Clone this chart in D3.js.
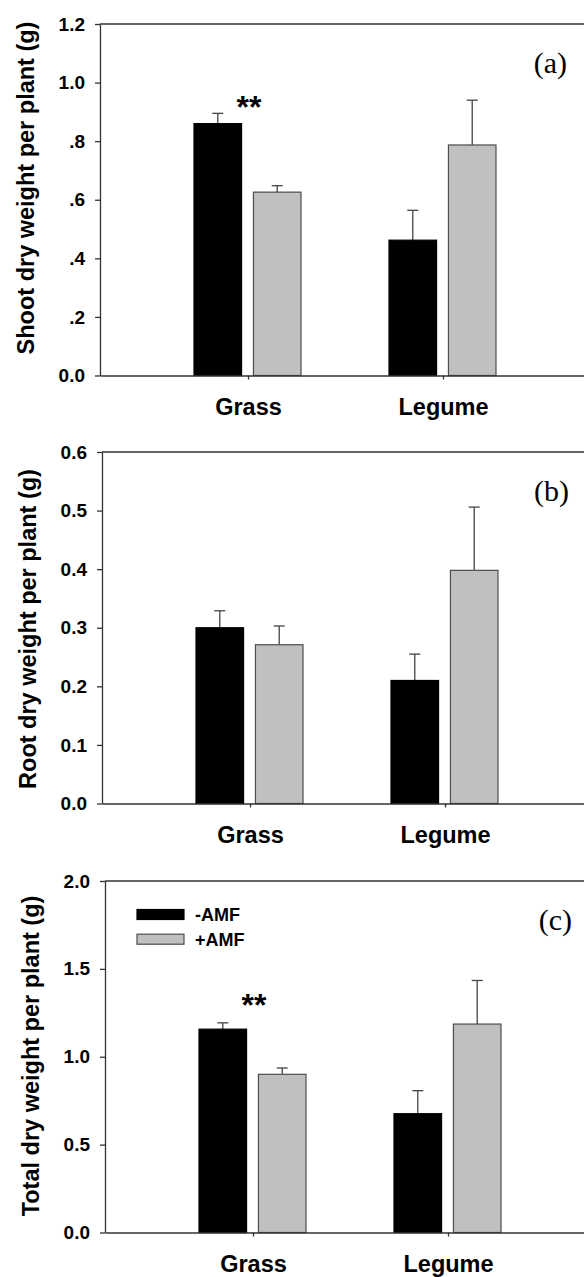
<!DOCTYPE html>
<html>
<head>
<meta charset="utf-8">
<script src="https://cdn.jsdelivr.net/npm/d3@7"></script>
<style>
    body { margin: 0; background: #fff; }
    svg { display: block; }
    .axis text { font-family: "Liberation Sans", Arial, sans-serif; font-weight: bold; font-size: 19px; fill: #000; }
    .axis path, .axis line { stroke: #333; stroke-width: 1.3px; }
</style>
</head>
<body>
<div id="chart"></div>
<script>
// categories and groups
var categories = ["Grass", "Legume"];
var series = ["-AMF", "+AMF"];

// (a) shoot dry weight, mean and upper SE
var shootNoAMF = [0.860, 0.462];
var shootNoAMFErr = [0.035, 0.102];
var shootAMF = [0.626, 0.787];
var shootAMFErr = [0.022, 0.153];

// (b) root dry weight
var rootNoAMF = [0.300, 0.210];
var rootNoAMFErr = [0.029, 0.045];
var rootAMF = [0.271, 0.398];
var rootAMFErr = [0.032, 0.108];

// (c) total dry weight
var totalNoAMF = [1.157, 0.676];
var totalNoAMFErr = [0.036, 0.131];
var totalAMF = [0.900, 1.186];
var totalAMFErr = [0.036, 0.248];

// tick values and labels
var shootTicks = [0, 0.2, 0.4, 0.6, 0.8, 1.0, 1.2];
var shootTickLabels = ["0.0", ".2", ".4", ".6", ".8", "1.0", "1.2"];
var rootTicks = [0, 0.1, 0.2, 0.3, 0.4, 0.5, 0.6];
var rootTickLabels = ["0.0", "0.1", "0.2", "0.3", "0.4", "0.5", "0.6"];
var totalTicks = [0, 0.5, 1.0, 1.5, 2.0];
var totalTickLabels = ["0.0", "0.5", "1.0", "1.5", "2.0"];

// significance marks
var shootStars = [{cat: "Grass", value: 0.88, text: "**"}];
var totalStars = [{cat: "Grass", value: 1.23, text: "**"}];

var colors = {"-AMF": "#000000", "+AMF": "#c0c0c0"};
var strokes = {"-AMF": "#000000", "+AMF": "#4d4d4d"};

var panels = [
    {letter: "(a)", title: "Shoot dry weight per plant (g)", top: 24, left: 100, titleY: 188,
     ticks: shootTicks, labels: shootTickLabels, neg: shootNoAMF, negErr: shootNoAMFErr,
     pos: shootAMF, posErr: shootAMFErr, stars: shootStars, legend: false},
    {letter: "(b)", title: "Root dry weight per plant (g)", top: 452, left: 102, titleY: 629,
     ticks: rootTicks, labels: rootTickLabels, neg: rootNoAMF, negErr: rootNoAMFErr,
     pos: rootAMF, posErr: rootAMFErr, stars: [], legend: false},
    {letter: "(c)", title: "Total dry weight per plant (g)", top: 881, left: 105, titleY: 1056,
     ticks: totalTicks, labels: totalTickLabels, neg: totalNoAMF, negErr: totalNoAMFErr,
     pos: totalAMF, posErr: totalAMFErr, stars: totalStars, legend: true}
];

var W = 584, H = 1277;
var plotH = 351.5, plotW = 491;

var svg = d3.select("#chart").append("svg")
    .attr("width", W)
    .attr("height", H);

panels.forEach(function (p) {
    var g = svg.append("g");
    var bottom = p.top + plotH;

    var y = d3.scaleLinear()
        .domain([0, d3.max(p.ticks)])
        .range([bottom, p.top]);

    var x0 = d3.scalePoint()
        .domain(categories)
        .range([p.left, p.left + plotW])
        .padding(0.759);

    var x1 = d3.scaleBand()
        .domain(series)
        .range([-54, 53])
        .paddingInner(0.2);

    var rows = [];
    categories.forEach(function (c, i) {
        rows.push({cat: c, s: "-AMF", v: p.neg[i], e: p.negErr[i]});
        rows.push({cat: c, s: "+AMF", v: p.pos[i], e: p.posErr[i]});
    });

    // frame top line
    g.append("line")
        .attr("x1", p.left).attr("x2", p.left + plotW)
        .attr("y1", p.top).attr("y2", p.top)
        .attr("stroke", "#333").attr("stroke-width", 1.3);

    // error bars (upper only)
    var err = g.selectAll(".err").data(rows).enter().append("g").attr("class", "err");
    err.append("line")
        .attr("x1", d => x0(d.cat) + x1(d.s) + x1.bandwidth() / 2)
        .attr("x2", d => x0(d.cat) + x1(d.s) + x1.bandwidth() / 2)
        .attr("y1", d => y(d.v))
        .attr("y2", d => y(d.v + d.e))
        .attr("stroke", "#444").attr("stroke-width", 1.3);
    err.append("line")
        .attr("x1", d => x0(d.cat) + x1(d.s) + x1.bandwidth() / 2 - 5.5)
        .attr("x2", d => x0(d.cat) + x1(d.s) + x1.bandwidth() / 2 + 5.5)
        .attr("y1", d => y(d.v + d.e))
        .attr("y2", d => y(d.v + d.e))
        .attr("stroke", "#444").attr("stroke-width", 1.3);

    g.selectAll(".bar").data(rows).enter().append("rect")
        .attr("class", "bar")
        .attr("x", d => x0(d.cat) + x1(d.s))
        .attr("y", d => y(d.v))
        .attr("width", x1.bandwidth())
        .attr("height", d => bottom - y(d.v))
        .attr("fill", d => colors[d.s])
        .attr("stroke", d => strokes[d.s])
        .attr("stroke-width", 1.2);

    // axes
    var yAxis = d3.axisLeft(y)
        .tickValues(p.ticks)
        .tickFormat((d, i) => p.labels[i])
        .tickSize(5)
        .tickSizeOuter(0)
        .tickPadding(10);
    g.append("g").attr("class", "axis")
        .attr("transform", "translate(" + p.left + ",0)")
        .call(yAxis);

    var xAxis = d3.axisBottom(x0)
        .tickSize(4)
        .tickSizeOuter(0)
        .tickPadding(20);
    var xg = g.append("g").attr("class", "axis")
        .attr("transform", "translate(0," + bottom + ")")
        .call(xAxis);
    xg.selectAll("text")
        .attr("dy", null)
        .attr("y", 39.5)
        .style("font-size", "23.5px");

    // y title
    g.append("text")
        .attr("transform", "translate(" + (p.left - 66) + "," + p.titleY + ") rotate(-90)")
        .attr("text-anchor", "middle")
        .style("font-family", "'Liberation Sans', Arial, sans-serif")
        .style("font-weight", "bold")
        .style("font-size", "23.5px")
        .text(p.title);

    // panel letter
    g.append("text")
        .attr("x", p.left + 467)
        .attr("y", p.top + 49)
        .attr("text-anchor", "end")
        .style("font-family", "'Liberation Serif', 'Times New Roman', serif")
        .style("font-size", "30px")
        .text(p.letter);

    // significance stars
    g.selectAll(".star").data(p.stars).enter().append("text")
        .attr("x", d => x0(d.cat) + 1)
        .attr("y", d => y(d.value))
        .attr("text-anchor", "middle")
        .style("font-family", "'Liberation Sans', Arial, sans-serif")
        .style("font-weight", "bold")
        .style("font-size", "32px")
        .text(d => d.text);

    if (p.legend) {
        var lg = g.append("g")
            .attr("transform", "translate(" + (p.left + 32) + "," + (p.top + 28.5) + ")");
        series.forEach(function (s, i) {
            lg.append("rect")
                .attr("x", 0).attr("y", i * 24.7)
                .attr("width", 47).attr("height", 10)
                .attr("fill", colors[s])
                .attr("stroke", strokes[s]).attr("stroke-width", 1.2);
            lg.append("text")
                .attr("x", 58).attr("y", i * 24.7 + 5)
                .attr("dy", "0.36em")
                .style("font-family", "'Liberation Sans', Arial, sans-serif")
                .style("font-weight", "bold")
                .style("font-size", "18px")
                .text(s);
        });
    }
});
</script>
</body>
</html>
